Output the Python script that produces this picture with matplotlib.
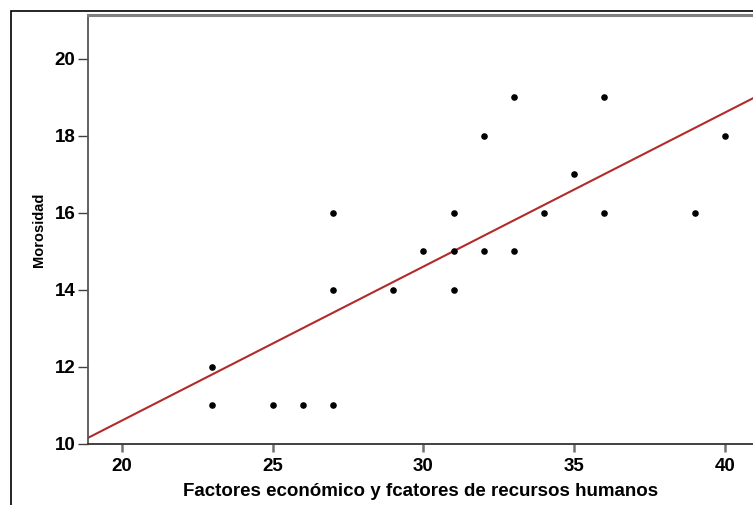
import numpy as np
import matplotlib.pyplot as plt
from matplotlib.patches import Rectangle

# data
factores = [23, 23, 25, 26, 27, 27, 27, 29, 30, 31, 31, 31, 32, 32, 33, 33, 34, 35, 36, 36, 39, 40]
morosidad = [12, 11, 11, 11, 11, 14, 16, 14, 15, 16, 15, 14, 18, 15, 19, 15, 16, 17, 19, 16, 16, 18]
xticks = [20, 25, 30, 35, 40]
yticks = [10, 12, 14, 16, 18, 20]
# fit line as drawn in the chart
fit_intercept = 2.617
fit_slope = 0.3997

plt.rcParams['font.family'] = ['Liberation Sans', 'DejaVu Sans']

fig = plt.figure(figsize=(7.53, 5.05), dpi=100)
W, H = 753, 505

# outer frame (black) around the chart
fig.patches.append(Rectangle((11 / W, -0.1), 1.2, (H - 11) / H + 0.1,
                             transform=fig.transFigure, fill=False,
                             edgecolor='black', linewidth=1.2))

ax = fig.add_axes([88 / W, 1 - 444 / H, 1 - 88 / W + 0.001, (444 - 15) / H])

ax.scatter(factores, morosidad, s=14, color='black', zorder=3)

xl = np.array([18.87, 40.96])
ax.plot(xl, fit_intercept + fit_slope * xl, color='#b22a2a', linewidth=1.5, zorder=2)

ax.set_xlim(18.87, 40.96)
ax.set_ylim(10, 21.14)
ax.set_xticks(xticks)
ax.set_yticks(yticks)
ax.tick_params(axis='x', length=6, width=1.8, color='#707070', labelsize=13.5, pad=4)
ax.tick_params(axis='y', length=7, width=1.0, color='#404040', labelsize=13.5, pad=2)
for lab in ax.get_xticklabels() + ax.get_yticklabels():
    lab.set_fontweight('bold')

ax.spines['left'].set_color('#555555')
ax.spines['left'].set_linewidth(1.3)
ax.spines['bottom'].set_color('#333333')
ax.spines['bottom'].set_linewidth(1.3)
ax.spines['top'].set_color('#808080')
ax.spines['top'].set_linewidth(2.2)
ax.spines['right'].set_visible(False)

ax.set_xlabel('Factores económico y fcatores de recursos humanos',
              fontsize=13.5, fontweight='bold', labelpad=6)
ax.set_ylabel('Morosidad', fontsize=10.5, fontweight='bold', labelpad=6)

fig.savefig('out.png', dpi=100)
